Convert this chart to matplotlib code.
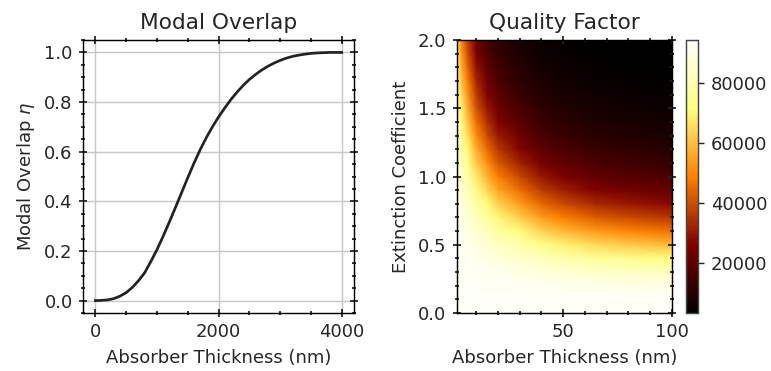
import numpy as np
import matplotlib
matplotlib.use("Agg")
import matplotlib.pyplot as plt
from matplotlib.ticker import MultipleLocator

# modal overlap vs absorber thickness
thickness_nm = list(range(0, 4001, 100))
overlap = [0.000, 0.001, 0.003, 0.008, 0.018, 0.032, 0.053, 0.080, 0.112, 0.157,
           0.205, 0.259, 0.316, 0.375, 0.435, 0.495, 0.553, 0.607, 0.656, 0.700,
           0.740, 0.776, 0.810, 0.840, 0.867, 0.891, 0.911, 0.929, 0.944, 0.957,
           0.968, 0.977, 0.984, 0.989, 0.993, 0.996, 0.998, 0.999, 1.000, 1.000,
           1.000]

# quality factor map (values in thousands), rows = kappa, cols = thickness
q_thick = [1, 3, 6, 10, 15, 20, 30, 40, 50, 65, 80, 100]
kappa = [0.0, 0.1, 0.2, 0.3, 0.4, 0.5, 0.6, 0.7, 0.8, 0.9, 1.0,
         1.1, 1.2, 1.3, 1.4, 1.5, 1.6, 1.7, 1.8, 1.9, 2.0]
q_k = [
    [93.0, 93.0, 93.0, 93.0, 93.0, 93.0, 93.0, 93.0, 93.0, 93.0, 93.0, 93.0],
    [93.0, 93.0, 93.0, 93.0, 92.9, 92.9, 92.9, 92.8, 92.8, 92.7, 92.6, 92.6],
    [93.0, 92.9, 92.9, 92.7, 92.5, 92.3, 92.0, 91.5, 91.0, 90.5, 90.1, 89.7],
    [92.9, 92.7, 92.5, 92.1, 91.5, 90.8, 89.6, 88.0, 86.7, 85.0, 83.9, 82.7],
    [92.8, 92.4, 91.9, 90.8, 89.5, 87.9, 85.3, 82.0, 79.4, 76.1, 74.0, 71.7],
    [92.5, 91.8, 90.9, 88.9, 86.4, 83.5, 79.0, 73.6, 69.7, 64.8, 62.0, 58.9],
    [92.2, 91.0, 89.4, 86.1, 82.2, 77.7, 71.2, 63.9, 58.9, 53.1, 49.9, 46.5],
    [91.7, 89.9, 87.4, 82.5, 76.9, 70.8, 62.6, 54.0, 48.5, 42.4, 39.2, 35.9],
    [91.1, 88.4, 84.9, 78.1, 70.9, 63.3, 53.9, 44.7, 39.2, 33.4, 30.5, 27.6],
    [90.4, 86.6, 81.9, 73.1, 64.4, 55.8, 45.7, 36.7, 31.5, 26.3, 23.7, 21.3],
    [89.4, 84.5, 78.4, 67.8, 57.8, 48.6, 38.5, 29.9, 25.3, 20.8, 18.6, 16.5],
    [88.3, 82.0, 74.5, 62.2, 51.4, 41.9, 32.2, 24.4, 20.4, 16.5, 14.7, 13.0],
    [87.0, 79.2, 70.3, 56.6, 45.3, 36.0, 26.9, 20.0, 16.5, 13.3, 11.8, 10.3],
    [85.5, 76.2, 66.0, 51.2, 39.8, 30.9, 22.6, 16.5, 13.5, 10.8, 9.5, 8.3],
    [83.9, 72.9, 61.5, 46.0, 34.8, 26.5, 19.0, 13.7, 11.1, 8.8, 7.8, 6.8],
    [82.0, 69.4, 57.1, 41.2, 30.5, 22.7, 16.1, 11.5, 9.3, 7.3, 6.4, 5.6],
    [80.0, 65.9, 52.7, 36.8, 26.6, 19.6, 13.7, 9.7, 7.8, 6.1, 5.3, 4.7],
    [77.8, 62.2, 48.5, 32.9, 23.3, 16.9, 11.7, 8.2, 6.6, 5.1, 4.5, 3.9],
    [75.5, 58.6, 44.5, 29.3, 20.4, 14.7, 10.0, 7.0, 5.6, 4.4, 3.8, 3.3],
    [73.1, 55.0, 40.8, 26.2, 18.0, 12.8, 8.7, 6.0, 4.8, 3.7, 3.3, 2.8],
    [70.6, 51.5, 37.3, 23.4, 15.8, 11.2, 7.5, 5.2, 4.1, 3.2, 2.8, 2.4],
]

txt = "#262626"
plt.rcParams["text.color"] = txt
plt.rcParams["axes.labelcolor"] = txt
plt.rcParams["xtick.color"] = txt
plt.rcParams["ytick.color"] = txt

fig = plt.figure(figsize=(771 / 130, 371 / 130), dpi=130)

ax1 = fig.add_axes([0.1077, 0.1563, 0.3515, 0.7358])
ax1.plot(thickness_nm, overlap, color="#222222", lw=1.5)
ax1.set_xlim(-200, 4200)
ax1.set_ylim(-0.05, 1.05)
ax1.xaxis.set_major_locator(MultipleLocator(2000))
ax1.xaxis.set_minor_locator(MultipleLocator(500))
ax1.yaxis.set_major_locator(MultipleLocator(0.2))
ax1.yaxis.set_minor_locator(MultipleLocator(0.05))
ax1.grid(True, which="major", color="#c8c8c8", lw=0.8)
ax1.set_title("Modal Overlap")
ax1.set_xlabel("Absorber Thickness (nm)")
ax1.set_ylabel(r"Modal Overlap $\eta$")

ax2 = fig.add_axes([0.5923, 0.1563, 0.2792, 0.7358])
qq = np.array(q_k) * 1000
mesh = ax2.pcolormesh(q_thick, kappa, qq, shading="gouraud", cmap="afmhot",
                      vmin=3200, vmax=94300, rasterized=True)
ax2.set_xlim(1, 100)
ax2.set_ylim(0, 2)
ax2.xaxis.set_major_locator(MultipleLocator(50))
ax2.xaxis.set_minor_locator(MultipleLocator(10))
ax2.yaxis.set_major_locator(MultipleLocator(0.5))
ax2.yaxis.set_minor_locator(MultipleLocator(0.1))
ax2.set_title("Quality Factor")
ax2.set_xlabel("Absorber Thickness (nm)")
ax2.set_ylabel("Extinction Coefficient")

for ax in (ax1, ax2):
    ax.tick_params(which="both", direction="inout", top=True, right=True)
    ax.tick_params(which="major", length=4.5, width=1)
    ax.tick_params(which="minor", length=2.2, width=1)

cax = fig.add_axes([0.8898, 0.1563, 0.0156, 0.7358])
cb = fig.colorbar(mesh, cax=cax)
cb.set_ticks([20000, 40000, 60000, 80000])
cb.outline.set_edgecolor("#444444")

fig.savefig("out.png", dpi=130)
